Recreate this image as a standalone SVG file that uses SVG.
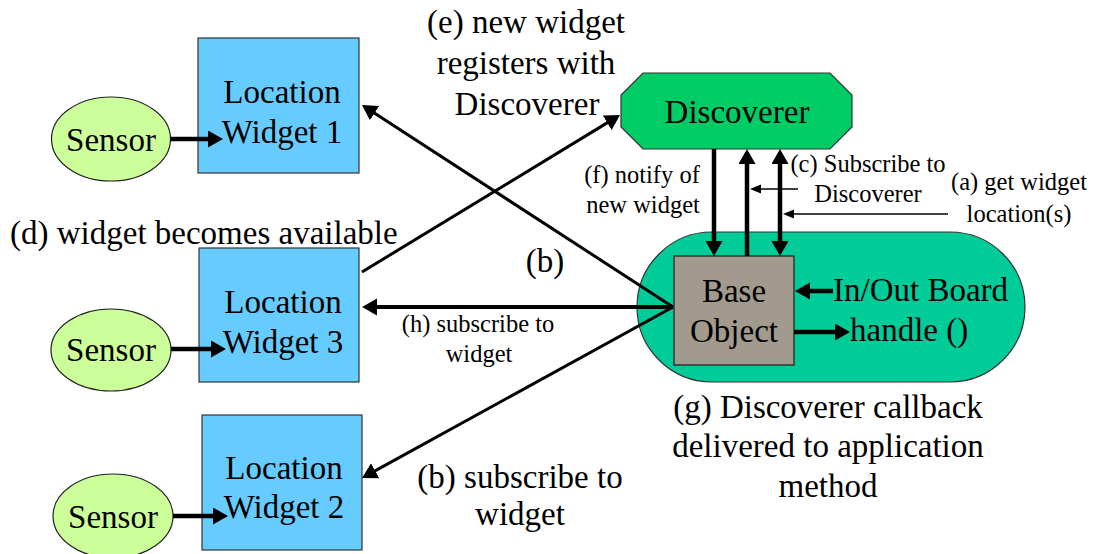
<svg xmlns="http://www.w3.org/2000/svg" width="1098" height="554" viewBox="0 0 1098 554" font-family="'Liberation Serif', 'Times New Roman', Tinos, 'DejaVu Serif', serif">
<defs>
<style>
text{font-family:'Liberation Serif','Times New Roman',Tinos,'DejaVu Serif',serif;fill:#000}
.big{font-size:33px}
.sm{font-size:24.5px}
.c{text-anchor:middle}
.widget{fill:#66CCFF;stroke:#333;stroke-width:1.2}
.sensor{fill:#CCFF99;stroke:#222;stroke-width:1.2}
.thick{stroke:#000;stroke-width:4.5;fill:none}
.diag{stroke:#000;stroke-width:3;fill:none}
.thin{stroke:#000;stroke-width:1.3;fill:none}
</style>
<marker id="ah" markerUnits="userSpaceOnUse" markerWidth="16" markerHeight="18" refX="9" refY="8.5" orient="auto-start-reverse" viewBox="0 0 16 18">
<path d="M0,0 L15,8.5 L0,17 z" fill="#000"/>
</marker>
<marker id="ahs" markerUnits="userSpaceOnUse" markerWidth="12" markerHeight="10" refX="6" refY="4.5" orient="auto" viewBox="0 0 12 10">
<path d="M0,0 L11,4.5 L0,9 z" fill="#000"/>
</marker>
</defs>

<g id="base-app">
<rect x="637" y="232" width="388" height="150" rx="75" ry="75" fill="#00CC99" stroke="#333" stroke-width="1.2"/>
<text class="big" x="833" y="301">In/Out Board</text>
<text class="big" x="850" y="341">handle ()</text>
</g>

<g id="discoverer">
<polygon points="643,73 830,73 852,95 852,127 830,149 643,149 621,127 621,95" fill="#00CC66" stroke="#333" stroke-width="1.2"/>
<text class="big c" x="737" y="123">Discoverer</text>
</g>

<g id="base-object">
<rect x="674" y="256" width="120" height="109" fill="#A39A8E" stroke="#333" stroke-width="1.5"/>
<text class="big c" x="734" y="302">Base</text>
<text class="big c" x="734" y="342">Object</text>
</g>

<g id="widget1">
<rect class="widget" x="198" y="38" width="161" height="135"/>
<text class="big c" x="282" y="103">Location</text>
<text class="big c" x="282" y="143">Widget 1</text>
</g>
<g id="widget3">
<rect class="widget" x="199" y="248" width="160" height="134"/>
<text class="big c" x="283" y="313">Location</text>
<text class="big c" x="283" y="353">Widget 3</text>
</g>
<g id="widget2">
<rect class="widget" x="202" y="415" width="160" height="135"/>
<text class="big c" x="284" y="479">Location</text>
<text class="big c" x="284" y="518">Widget 2</text>
</g>

<g id="sensor1">
<ellipse class="sensor" cx="111" cy="139" rx="59.5" ry="42"/>
<text class="big c" x="111" y="151">Sensor</text>
</g>
<g id="sensor3">
<ellipse class="sensor" cx="111" cy="350" rx="60" ry="41"/>
<text class="big c" x="111" y="361">Sensor</text>
</g>
<g id="sensor2">
<ellipse class="sensor" cx="113" cy="516" rx="60" ry="42"/>
<text class="big c" x="113" y="528">Sensor</text>
</g>

<g id="connectors">
<line class="thick" x1="170" y1="139" x2="217" y2="139" marker-end="url(#ah)"/>
<line class="thick" x1="171" y1="349" x2="220" y2="349" marker-end="url(#ah)"/>
<line class="thick" x1="173" y1="516" x2="222" y2="516" marker-end="url(#ah)"/>
<line class="diag" x1="673" y1="307" x2="367" y2="108.3" marker-end="url(#ah)"/>
<line class="thick" style="stroke-width:4" x1="673" y1="307" x2="368" y2="307" marker-end="url(#ah)"/>
<line class="diag" x1="673" y1="307" x2="367.3" y2="475.1" marker-end="url(#ah)"/>
<line class="diag" x1="362" y1="272" x2="614.9" y2="118.1" marker-end="url(#ah)"/>
<line class="thick" x1="714" y1="149" x2="714" y2="250" marker-end="url(#ah)"/>
<line class="thick" x1="747" y1="256" x2="747" y2="155" marker-end="url(#ah)"/>
<line class="thick" x1="780" y1="155" x2="780" y2="250" marker-start="url(#ah)" marker-end="url(#ah)"/>
<line class="thick" x1="833" y1="291" x2="801" y2="291" marker-end="url(#ah)"/>
<line class="thick" x1="794" y1="332" x2="844" y2="332" marker-end="url(#ah)"/>
<line class="thin" x1="798" y1="189" x2="755" y2="189" marker-end="url(#ahs)"/>
<line class="thin" x1="948" y1="214" x2="788" y2="214" marker-end="url(#ahs)"/>
</g>

<g id="labels">
<text class="big c" x="526" y="33">(e) new widget</text>
<text class="big c" x="526" y="74">registers with</text>
<text class="big c" x="527" y="115">Discoverer</text>
<text class="big" x="10" y="244">(d) widget becomes available</text>
<text class="big c" x="545" y="272">(b)</text>
<text class="sm c" x="478" y="332">(h) subscribe to</text>
<text class="sm c" x="479" y="362">widget</text>
<text class="big c" x="520" y="488">(b) subscribe to</text>
<text class="big c" x="520" y="525">widget</text>
<text class="big c" x="828" y="418">(g) Discoverer callback</text>
<text class="big c" x="828" y="457">delivered to application</text>
<text class="big c" x="828" y="497">method</text>
<text class="sm c" x="642" y="183">(f) notify of</text>
<text class="sm c" x="643" y="213">new widget</text>
<text class="sm c" x="868" y="172">(c) Subscribe to</text>
<text class="sm c" x="868" y="202">Discoverer</text>
<text class="sm c" x="1019" y="190">(a) get widget</text>
<text class="sm c" x="1019" y="222">location(s)</text>
</g>
</svg>
